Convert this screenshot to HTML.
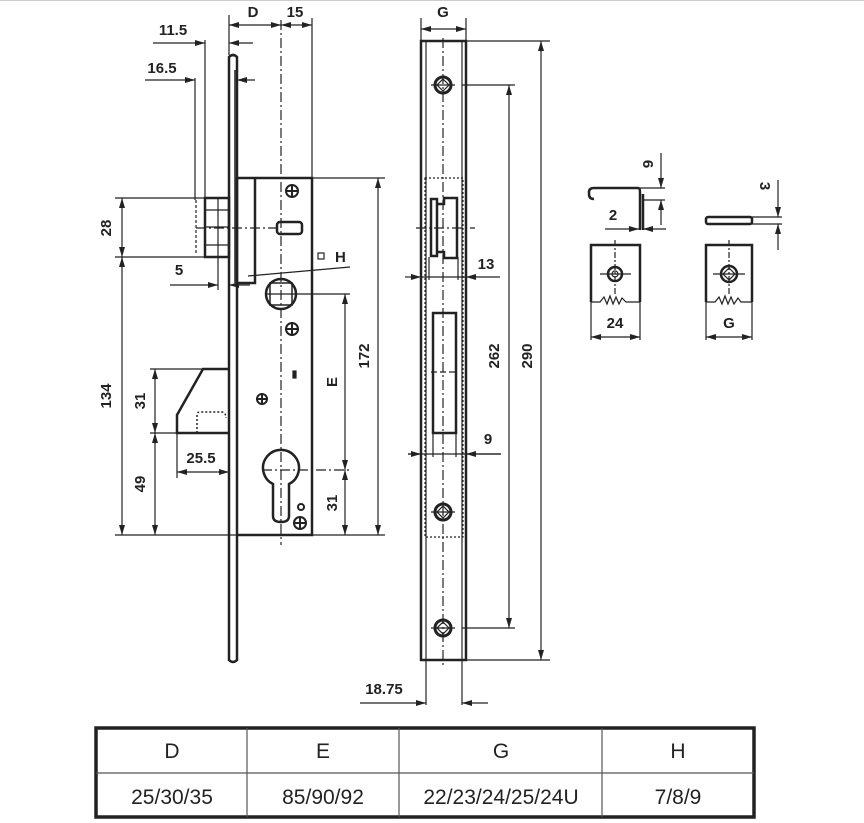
<!DOCTYPE html>
<html><head><meta charset="utf-8"><style>
html,body{margin:0;padding:0;background:#fff}
svg{display:block}
text{font-family:"Liberation Sans",sans-serif;fill:#222}
.d{font-weight:bold;font-size:15px}
.t{font-size:21px}
</style></head><body>
<svg width="864" height="823" viewBox="0 0 864 823" xmlns="http://www.w3.org/2000/svg">
<defs>
<marker id="a" viewBox="0 0 10 6" refX="10" refY="3" markerWidth="10" markerHeight="6" orient="auto-start-reverse" markerUnits="userSpaceOnUse"><path d="M0,0L10,3L0,6z" fill="#222"/></marker>
</defs>
<line x1="0" y1="0.5" x2="864" y2="0.5" stroke="#ccc"/>
<g stroke="#222" fill="none" stroke-width="1.2">
<path d="M229,660 V57 Q233,53 237,57 V660 Q233,664 229,660 Z" stroke-width="2.5"/>
<line x1="235" y1="70" x2="235" y2="283" stroke-width="1.5"/>
<path d="M237,178 H312 V535 H237" stroke-width="2.5"/>
<path d="M237,178 V283 H255 V178" stroke-width="2.5"/>
<rect x="205" y="198" width="24" height="59" stroke-width="2.5"/>
<line x1="205" y1="210" x2="229" y2="210"/><line x1="205" y1="245" x2="229" y2="245"/>
<line x1="205" y1="227" x2="229" y2="227"/>
<line x1="218" y1="198" x2="218" y2="257"/>
<path d="M196,200 V255" stroke-dasharray="3,2"/>
<path d="M229,369 H203 L177,415 V433 H229" stroke-width="2.5"/>
<path d="M197,433 V415 Q197,412 200,412 H222 Q226,413 226,418" stroke-dasharray="2,2" stroke-width="1.5"/>
<line x1="281" y1="20" x2="281" y2="545" stroke-dasharray="10,3,2,3"/>
<line x1="196" y1="228" x2="281" y2="228" stroke-dasharray="10,3,2,3"/>
<rect x="277" y="222" width="25" height="12" rx="3" stroke-width="2.5"/>
<circle cx="281" cy="294" r="15" stroke-width="2.5"/>
<rect x="270" y="283" width="22" height="22" stroke-width="1.5"/>
<line x1="265" y1="294" x2="350" y2="294"/>
<g stroke-width="2">
<circle cx="292" cy="191" r="6"/><line x1="286" y1="191" x2="298" y2="191"/><line x1="292" y1="185" x2="292" y2="197"/>
<circle cx="292" cy="329" r="6"/><line x1="285" y1="329" x2="299" y2="329"/><line x1="292" y1="322" x2="292" y2="336"/>
<circle cx="262" cy="399" r="5"/><line x1="256" y1="399" x2="268" y2="399"/><line x1="262" y1="393" x2="262" y2="405"/>
<circle cx="300" cy="523" r="6"/><line x1="294" y1="523" x2="306" y2="523"/><line x1="300" y1="517" x2="300" y2="529"/>
<circle cx="301" cy="507" r="3"/>
</g>
<rect x="293" y="371" width="3" height="7" fill="#222"/>
<path d="M273,484 A18,18 0 1 1 289,484 V516 Q289,522 281,522 Q273,522 273,516 Z" stroke-width="2.5"/>
<line x1="262" y1="470" x2="350" y2="470" stroke-dasharray="10,3,2,3"/>
<line x1="248" y1="276" x2="350" y2="267"/>
<line x1="229" y1="15" x2="229" y2="55"/><line x1="312" y1="18" x2="312" y2="178"/>
<line x1="229" y1="25" x2="281" y2="25" marker-start="url(#a)" marker-end="url(#a)"/>
<line x1="281" y1="25" x2="312" y2="25" marker-start="url(#a)" marker-end="url(#a)"/>
<line x1="205" y1="40" x2="205" y2="198"/>
<line x1="153" y1="43" x2="205" y2="43" marker-end="url(#a)"/><line x1="253" y1="43" x2="229" y2="43" marker-end="url(#a)"/>
<line x1="195" y1="78" x2="195" y2="200"/>
<line x1="145" y1="80" x2="195" y2="80" marker-end="url(#a)"/><line x1="255" y1="80" x2="237" y2="80" marker-end="url(#a)"/>
<line x1="312" y1="178" x2="385" y2="178"/>
<line x1="378" y1="178" x2="378" y2="535" marker-start="url(#a)" marker-end="url(#a)"/>
<line x1="312" y1="535" x2="385" y2="535"/>
<line x1="345" y1="294" x2="345" y2="470" marker-start="url(#a)" marker-end="url(#a)"/>
<line x1="345" y1="470" x2="345" y2="535" marker-start="url(#a)" marker-end="url(#a)"/>
<line x1="115" y1="198" x2="205" y2="198"/><line x1="115" y1="257" x2="205" y2="257"/>
<line x1="122" y1="198" x2="122" y2="257" marker-start="url(#a)" marker-end="url(#a)"/>
<line x1="122" y1="257" x2="122" y2="535" marker-start="url(#a)" marker-end="url(#a)"/>
<line x1="115" y1="535" x2="237" y2="535"/>
<line x1="150" y1="369" x2="203" y2="369"/>
<line x1="155" y1="369" x2="155" y2="433" marker-start="url(#a)" marker-end="url(#a)"/>
<line x1="150" y1="433" x2="177" y2="433"/>
<line x1="155" y1="433" x2="155" y2="535" marker-start="url(#a)" marker-end="url(#a)"/>
<line x1="177" y1="433" x2="177" y2="478"/>
<line x1="177" y1="472" x2="229" y2="472" marker-start="url(#a)" marker-end="url(#a)"/>
<line x1="218" y1="258" x2="218" y2="290"/>
<line x1="170" y1="285" x2="218" y2="285" marker-end="url(#a)"/><line x1="250" y1="285" x2="229" y2="285" marker-end="url(#a)"/>
<rect x="421" y="41" width="45" height="619" stroke-width="2.5"/>
<line x1="426" y1="41" x2="426" y2="705"/><line x1="462" y1="41" x2="462" y2="705"/>
<line x1="421" y1="18" x2="421" y2="41"/><line x1="466" y1="18" x2="466" y2="41"/>
<line x1="421" y1="29" x2="466" y2="29" marker-start="url(#a)" marker-end="url(#a)"/>
<line x1="443" y1="38" x2="443" y2="668" stroke-dasharray="10,3,2,3"/>
<rect x="425" y="178" width="38" height="359" stroke-dasharray="2,2"/>
<rect x="431" y="199" width="6" height="57" stroke-width="2.5"/>
<path d="M437,204 H444 V198 H457 V258 H444 V252 H437" stroke-width="2.5"/>
<line x1="416" y1="228" x2="475" y2="228" stroke-dasharray="10,3,2,3"/>
<line x1="429" y1="257" x2="429" y2="280"/><line x1="458" y1="257" x2="458" y2="280"/>
<line x1="405" y1="277" x2="421" y2="277" marker-end="url(#a)"/>
<line x1="500" y1="277" x2="466" y2="277" marker-end="url(#a)"/>
<line x1="421" y1="277" x2="466" y2="277"/>
<rect x="433" y="313" width="23" height="120" stroke-width="2.5"/>
<line x1="431" y1="372" x2="458" y2="372" stroke-dasharray="6,3"/>
<line x1="433" y1="433" x2="433" y2="457"/><line x1="456" y1="433" x2="456" y2="457"/>
<line x1="408" y1="454" x2="501" y2="454"/>
<line x1="408" y1="454" x2="421" y2="454" marker-end="url(#a)"/><line x1="501" y1="454" x2="466" y2="454" marker-end="url(#a)"/>
<g stroke-width="3">
<circle cx="443" cy="85" r="8"/><circle cx="443" cy="512" r="8"/><circle cx="443" cy="628" r="8"/>
</g>
<g stroke-width="1.2">
<path d="M443,79 L449,85 L443,91 L437,85Z"/><path d="M443,506 L449,512 L443,518 L437,512Z"/><path d="M443,622 L449,628 L443,634 L437,628Z"/>
<line x1="431" y1="85" x2="455" y2="85"/><line x1="431" y1="512" x2="455" y2="512"/><line x1="431" y1="628" x2="455" y2="628"/>
</g>
<line x1="466" y1="41" x2="550" y2="41"/><line x1="466" y1="660" x2="550" y2="660"/>
<line x1="462" y1="85" x2="515" y2="85"/><line x1="462" y1="628" x2="515" y2="628"/>
<line x1="509" y1="85" x2="509" y2="628" marker-start="url(#a)" marker-end="url(#a)"/>
<line x1="541" y1="41" x2="541" y2="660" marker-start="url(#a)" marker-end="url(#a)"/>
<line x1="360" y1="703" x2="426" y2="703" marker-end="url(#a)"/><line x1="488" y1="703" x2="462" y2="703" marker-end="url(#a)"/>
<path d="M594,199 Q589,199 589,194 V192 Q589,188 594,188 H638 Q640,188 640,192 V230 M643,230 V194" stroke-width="2.5"/>
<line x1="640" y1="188" x2="665" y2="188"/><line x1="643" y1="200" x2="665" y2="200"/>
<line x1="661" y1="153" x2="661" y2="188" marker-end="url(#a)"/><line x1="661" y1="225" x2="661" y2="200" marker-end="url(#a)"/>
<line x1="605" y1="229" x2="639" y2="229" marker-end="url(#a)"/><line x1="666" y1="229" x2="643" y2="229" marker-end="url(#a)"/>
<path d="M591,302 V245 H640 V302" stroke-width="2.5"/>
<path d="M591,302 H600 L604,297 L607,304 L610,296 L613,304 L616,297 L619,304 L622,298 L626,302 H640"/>
<line x1="591" y1="302" x2="591" y2="340"/><line x1="640" y1="302" x2="640" y2="340"/>
<line x1="591" y1="337" x2="640" y2="337" marker-start="url(#a)" marker-end="url(#a)"/>
<line x1="615" y1="240" x2="615" y2="296" stroke-dasharray="6,2,2,2"/>
<line x1="600" y1="274" x2="631" y2="274"/>
<circle cx="615" cy="274" r="7" stroke-width="2.5"/><circle cx="615" cy="274" r="3"/>
<rect x="706" y="217" width="46" height="7" rx="2" stroke-width="2.5"/>
<line x1="752" y1="217" x2="782" y2="217"/><line x1="752" y1="224" x2="782" y2="224"/>
<line x1="778" y1="180" x2="778" y2="217" marker-end="url(#a)"/><line x1="778" y1="250" x2="778" y2="224" marker-end="url(#a)"/>
<path d="M706,302 V245 H752 V302" stroke-width="2.5"/>
<path d="M706,302 H715 L719,297 L722,304 L725,296 L728,304 L731,297 L734,304 L738,298 L741,302 H752"/>
<line x1="706" y1="302" x2="706" y2="340"/><line x1="752" y1="302" x2="752" y2="340"/>
<line x1="706" y1="337" x2="752" y2="337" marker-start="url(#a)" marker-end="url(#a)"/>
<line x1="729" y1="240" x2="729" y2="296" stroke-dasharray="6,2,2,2"/>
<line x1="713" y1="274" x2="745" y2="274"/>
<circle cx="729" cy="274" r="8" stroke-width="2.5"/><path d="M729,268 L735,274 L729,280 L723,274Z"/>
<rect x="318" y="253" width="6" height="6"/>
<rect x="96" y="728" width="658" height="89" stroke-width="3.5"/>
<line x1="96" y1="773" x2="754" y2="773" stroke="#555"/>
<line x1="247" y1="728" x2="247" y2="817" stroke="#555"/>
<line x1="399" y1="728" x2="399" y2="817" stroke="#555"/>
<line x1="602" y1="728" x2="602" y2="817" stroke="#555"/>
</g>
<text class="d" x="253" y="17" text-anchor="middle">D</text>
<text class="d" x="295" y="17" text-anchor="middle">15</text>
<text class="d" x="173" y="35" text-anchor="middle">11.5</text>
<text class="d" x="162" y="73" text-anchor="middle">16.5</text>
<text class="d" x="179" y="275" text-anchor="middle">5</text>
<text class="d" x="335" y="262">H</text>
<text class="d" x="443" y="17" text-anchor="middle">G</text>
<text class="d" x="486" y="269" text-anchor="middle">13</text>
<text class="d" x="488" y="444" text-anchor="middle">9</text>
<text class="d" x="384" y="694" text-anchor="middle">18.75</text>
<text class="d" x="613" y="220" text-anchor="middle">2</text>
<text class="d" x="615" y="328" text-anchor="middle">24</text>
<text class="d" x="729" y="328" text-anchor="middle">G</text>
<text class="d" transform="translate(111,228) rotate(-90)" text-anchor="middle">28</text>
<text class="d" transform="translate(111,396) rotate(-90)" text-anchor="middle">134</text>
<text class="d" transform="translate(145,401) rotate(-90)" text-anchor="middle">31</text>
<text class="d" transform="translate(145,484) rotate(-90)" text-anchor="middle">49</text>
<text class="d" transform="translate(337,382) rotate(-90)" text-anchor="middle">E</text>
<text class="d" transform="translate(337,503) rotate(-90)" text-anchor="middle">31</text>
<text class="d" transform="translate(369,356) rotate(-90)" text-anchor="middle">172</text>
<text class="d" transform="translate(499,356) rotate(-90)" text-anchor="middle">262</text>
<text class="d" transform="translate(532,356) rotate(-90)" text-anchor="middle">290</text>
<text class="d" transform="translate(643,164) rotate(90)" text-anchor="middle">6</text>
<text class="d" transform="translate(760,186) rotate(90)" text-anchor="middle">3</text>
<text class="d" x="201" y="463" text-anchor="middle">25.5</text>
<text class="t" x="172" y="758" text-anchor="middle">D</text>
<text class="t" x="323" y="758" text-anchor="middle">E</text>
<text class="t" x="501" y="758" text-anchor="middle">G</text>
<text class="t" x="678" y="758" text-anchor="middle">H</text>
<text class="t" x="172" y="804" text-anchor="middle">25/30/35</text>
<text class="t" x="323" y="804" text-anchor="middle">85/90/92</text>
<text class="t" x="501" y="804" text-anchor="middle">22/23/24/25/24U</text>
<text class="t" x="678" y="804" text-anchor="middle">7/8/9</text>
</svg>
</body></html>
